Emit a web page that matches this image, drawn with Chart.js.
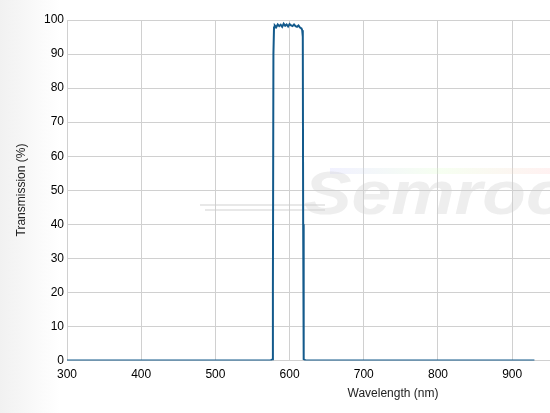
<!DOCTYPE html>
<html>
<head>
<meta charset="utf-8">
<script src="https://cdn.jsdelivr.net/npm/chart.js@4"></script>
<style>
  html, body { margin: 0; padding: 0; overflow: hidden; }
  body { width: 550px; height: 413px; background: linear-gradient(to right, #f1f1f1 0px, #ffffff 60px); }
</style>
</head>
<body>
<canvas id="chart" width="550" height="413"></canvas>
<script>
// transmission curve (nm, %)
const wavelengths = [300, 400, 500, 560, 574, 576.5, 577.5, 578.2, 579, 580, 582, 584, 586, 588, 590, 592, 594, 596, 598, 600,
  602, 604, 606, 608, 610, 612, 614, 616, 617, 617.8, 618.3, 619, 622, 640, 700, 800, 900, 930];
const transmission = [0, 0, 0, 0, 0, 0.3, 20, 90, 97.8, 98.4, 97.9, 98.7, 98.2, 98.6, 98.0, 98.9, 98.3, 98.7, 98.1, 98.8,
  98.4, 98.2, 98.7, 98.2, 98.0, 98.4, 97.8, 97.5, 97.0, 95, 40, 0.4, 0, 0, 0, 0, 0, 0];
const xTicks = [300, 400, 500, 600, 700, 800, 900];
const yTicks = [0, 10, 20, 30, 40, 50, 60, 70, 80, 90, 100];

const points = wavelengths.map((w, i) => ({ x: w, y: transmission[i] }));

const extras = {
  id: "extras",
  beforeDatasetsDraw(chart) {
    const ctx = chart.ctx;
    ctx.save();
    const g = ctx.createLinearGradient(330, 0, 550, 0);
    g.addColorStop(0, "rgba(200,200,255,0.25)");
    g.addColorStop(0.5, "rgba(220,255,200,0.25)");
    g.addColorStop(1, "rgba(255,200,200,0.25)");
    ctx.fillStyle = g;
    ctx.fillRect(330, 168, 220, 6);
    ctx.strokeStyle = "rgba(205,205,205,0.45)";
    ctx.lineWidth = 2;
    ctx.beginPath();
    ctx.moveTo(200, 205); ctx.lineTo(325, 205);
    ctx.moveTo(205, 210); ctx.lineTo(325, 210);
    ctx.stroke();
    ctx.translate(304, 214);
    ctx.scale(1.15, 1);
    ctx.fillStyle = "rgba(205,205,205,0.35)";
    ctx.font = "italic bold 62px 'Liberation Sans', Arial, sans-serif";
    ctx.textBaseline = "alphabetic";
    ctx.fillText("Semroc", 0, 0);
    ctx.restore();
  },
  afterDraw(chart) {
    const ctx = chart.ctx;
    ctx.save();
    ctx.fillStyle = "#222";
    ctx.font = "12px 'Liberation Sans', Arial, sans-serif";
    ctx.textAlign = "center";
    ctx.textBaseline = "middle";
    ctx.fillText("Wavelength (nm)", 393, 394);
    ctx.translate(22, 190);
    ctx.rotate(-Math.PI / 2);
    ctx.fillText("Transmission (%)", 0, 0);
    ctx.restore();
  }
};

new Chart(document.getElementById("chart"), {
  type: "scatter",
  data: {
    datasets: [{
      data: points,
      showLine: true,
      borderColor: "#135a8c",
      borderWidth: 2,
      pointRadius: 0,
      tension: 0
    }]
  },
  options: {
    responsive: false,
    animation: false,
    layout: { padding: { left: 41, top: 20, right: 0, bottom: 24 } },
    plugins: { legend: { display: false }, tooltip: { enabled: false } },
    scales: {
      x: {
        type: "linear",
        min: 300,
        max: 951,
        afterBuildTicks: axis => { axis.ticks = xTicks.map(v => ({ value: v })); },
        grid: { color: "#d0d0d0", drawTicks: false },
        border: { color: "#d0d0d0" },
        ticks: { color: "#000", autoSkip: false, font: { family: "'Liberation Sans', Arial, sans-serif", size: 12 }, padding: 7, maxRotation: 0 }
      },
      y: {
        min: 0,
        max: 100,
        afterBuildTicks: axis => { axis.ticks = yTicks.map(v => ({ value: v })); },
        grid: { color: "#d0d0d0", drawTicks: false },
        border: { color: "#d0d0d0" },
        ticks: { color: "#000", autoSkip: false, font: { family: "'Liberation Sans', Arial, sans-serif", size: 12 }, padding: 3 }
      }
    }
  },
  plugins: [extras]
});
</script>
</body>
</html>
